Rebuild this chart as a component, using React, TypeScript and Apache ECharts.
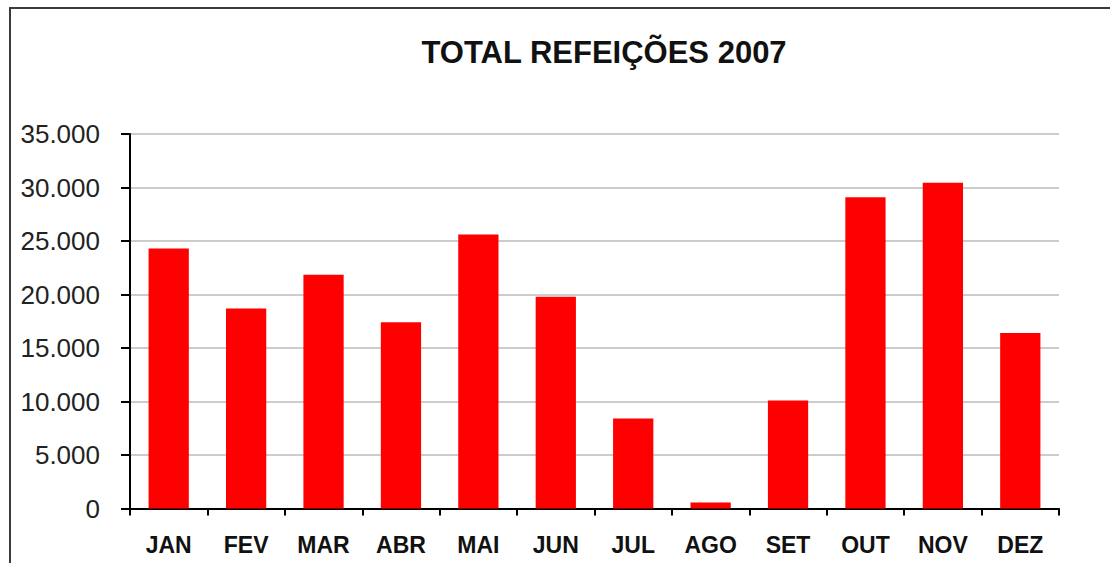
import React, { useEffect, useRef } from "react";
import * as echarts from "echarts";

const titleText = "TOTAL REFEIÇÕES 2007";
const months = ["JAN", "FEV", "MAR", "ABR", "MAI", "JUN", "JUL", "AGO", "SET", "OUT", "NOV", "DEZ"];
const meals = [24300, 18700, 21850, 17400, 25600, 19800, 8400, 550, 10100, 29100, 30450, 16400];
const yTickValues = [0, 5000, 10000, 15000, 20000, 25000, 30000, 35000];
const yTickLabels = ["0", "5.000", "10.000", "15.000", "20.000", "25.000", "30.000", "35.000"];

export default function App() {
  const ref = useRef<HTMLDivElement>(null);
  useEffect(() => {
    if (!ref.current) return;
    const chart = echarts.init(ref.current, undefined, { renderer: "svg" });
    chart.setOption({
      animation: false,
      backgroundColor: "#ffffff",
      title: {
        text: titleText,
        left: 604,
        top: 37,
        padding: 0,
        textAlign: "center",
        textStyle: {
          fontFamily: "Liberation Sans",
          fontSize: 31,
          fontWeight: "bold",
          color: "#111111",
        },
      },
      graphic: [
        {
          type: "rect",
          shape: { x: 10, y: 8, width: 1300, height: 800 },
          style: { fill: "none", stroke: "#3a3a3a", lineWidth: 2 },
          silent: true,
        },
      ],
      grid: { left: 130, right: 51, top: 134, bottom: 54.5 },
      xAxis: {
        type: "category",
        data: months,
        boundaryGap: true,
        axisLine: { show: true, lineStyle: { color: "#000000", width: 2 } },
        axisTick: { show: true, length: 7, alignWithLabel: false, lineStyle: { color: "#000000", width: 2 } },
        axisLabel: {
          margin: 25,
          fontFamily: "Liberation Sans",
          fontSize: 23,
          fontWeight: "bold",
          color: "#111111",
          interval: 0,
        },
        splitLine: { show: false },
      },
      yAxis: {
        type: "value",
        min: 0,
        max: 35000,
        interval: 5000,
        axisLine: { show: true, lineStyle: { color: "#000000", width: 2 } },
        axisTick: { show: true, length: 9, inside: false, lineStyle: { color: "#000000", width: 2 } },
        axisLabel: {
          margin: 30,
          fontFamily: "Liberation Sans",
          fontSize: 26,
          color: "#222222",
          formatter: (v: number) => {
            const i = yTickValues.indexOf(v);
            return i >= 0 ? yTickLabels[i] : String(v);
          },
        },
        splitLine: { show: true, lineStyle: { color: "#cccccc", width: 2 } },
      },
      series: [
        {
          type: "bar",
          data: meals,
          barWidth: "52%",
          itemStyle: { color: "#ff0000" },
        },
      ],
    });
    return () => chart.dispose();
  }, []);
  return (
    <div
      ref={ref}
      style={{ position: "fixed", left: 0, top: 0, width: 1110, height: 563, background: "#ffffff" }}
    />
  );
}
